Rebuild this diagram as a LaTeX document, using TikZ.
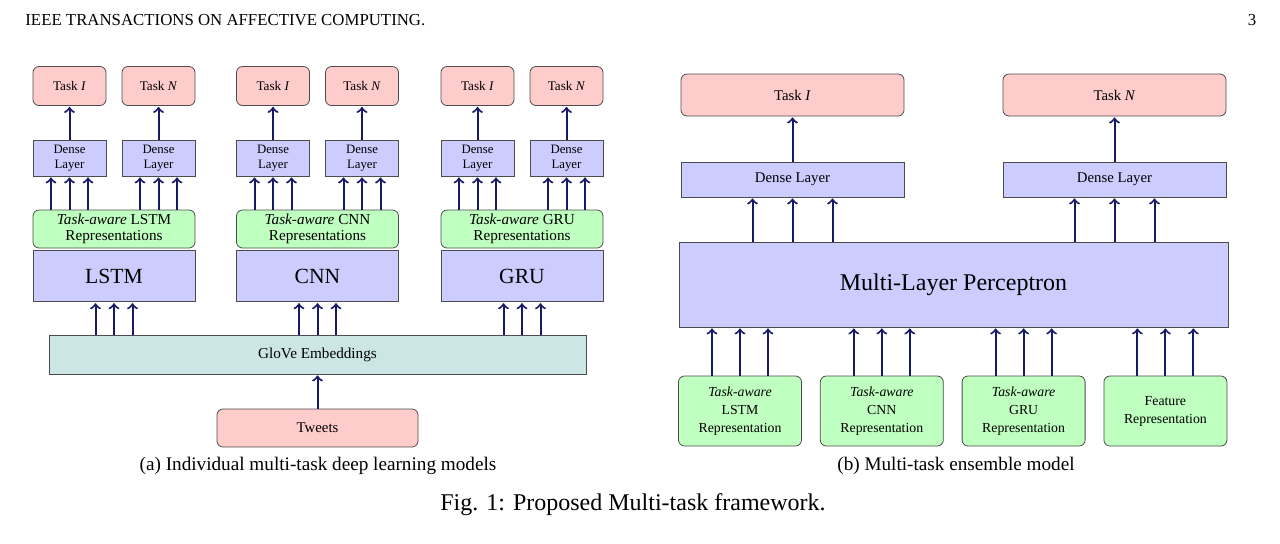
\documentclass[tikz,border=0pt]{standalone}
\usepackage{fontspec}
\setmainfont{Liberation Serif}
\usepackage{tikz}
\usepackage{xcolor}
\usetikzlibrary{arrows,positioning}
\definecolor{arrowblue}{RGB}{25,25,105}
\tikzstyle{task} = [rectangle, draw=black!70, fill=red!20, text centered, rounded corners=3pt, minimum height=19.5pt, minimum width=36.5pt, font=\fontsize{6.6}{8}\selectfont]
\tikzstyle{dense} = [rectangle, draw=black!70, fill=blue!20, align=center, inner sep=1pt, minimum height=18pt, minimum width=36.5pt, font=\fontsize{6.4}{7.6}\selectfont]
\tikzstyle{rep} = [rectangle, draw=black!70, fill=green!25, align=center, rounded corners=3pt, inner sep=1pt, minimum height=19pt, minimum width=81pt, font=\fontsize{7.6}{7.8}\selectfont]
\tikzstyle{model} = [rectangle, draw=black!70, fill=blue!20, minimum height=25.5pt, minimum width=81pt, font=\fontsize{10.8}{13}\selectfont]
\tikzstyle{embed} = [rectangle, draw=black!70, fill=teal!20, minimum height=19.5pt, minimum width=268.5pt, font=\fontsize{7.6}{9}\selectfont]
\tikzstyle{bigtask} = [task, minimum width=111.5pt, minimum height=21pt, font=\fontsize{7.4}{9}\selectfont]
\tikzstyle{bigdense} = [dense, minimum width=111.5pt, minimum height=17.5pt, font=\fontsize{7.4}{9}\selectfont]
\tikzstyle{mlp} = [model, minimum width=274.5pt, minimum height=42.5pt, font=\fontsize{12}{14}\selectfont]
\tikzstyle{inrep} = [rep, minimum width=61.5pt, minimum height=35pt, font=\fontsize{6.9}{9}\selectfont]
\tikzstyle{line} = [draw=arrowblue, line width=1pt, ->, shorten >=0.5pt]
\begin{document}
\begin{tikzpicture}[x=0.5pt, y=-0.5pt, node distance=36pt]
\useasboundingbox (0,0) rectangle (1280,543);
% page header
\node [anchor=west, inner sep=0pt, font=\fontsize{8.4}{10}\selectfont] (journal) at (25,20) {IEEE TRANSACTIONS ON AFFECTIVE COMPUTING.};
\node [inner sep=0pt, font=\fontsize{8.4}{10}\selectfont] (pageno) at (1252,20) {3};

% (a) individual models
\node [task] (lstmtI) at (69.5,86) {Task \textit{I}};
\node [task] (lstmtN) at (158.5,86) {Task \textit{N}};
\node [task] (cnntI) at (273,86) {Task \textit{I}};
\node [task] (cnntN) at (362,86) {Task \textit{N}};
\node [task] (grutI) at (477.5,86) {Task \textit{I}};
\node [task] (grutN) at (566.5,86) {Task \textit{N}};
\node [dense, below of=lstmtI] (lstmdI) {Dense\\Layer};
\node [dense, below of=lstmtN] (lstmdN) {Dense\\Layer};
\node [dense, below of=cnntI] (cnndI) {Dense\\Layer};
\node [dense, below of=cnntN] (cnndN) {Dense\\Layer};
\node [dense, below of=grutI] (grudI) {Dense\\Layer};
\node [dense, below of=grutN] (grudN) {Dense\\Layer};
\node [rep] (lstmrep) at (114,229) {\textit{Task-aware} LSTM\\Representations};
\node [rep] (cnnrep) at (317.5,229) {\textit{Task-aware} CNN\\Representations};
\node [rep] (grurep) at (522,229) {\textit{Task-aware} GRU\\Representations};
\node [model, below=1pt of lstmrep] (lstm) {LSTM};
\node [model, below=1pt of cnnrep] (cnn) {CNN};
\node [model, below=1pt of grurep] (gru) {GRU};
\node [embed] (glove) at (317.5,354.5) {GloVe Embeddings};
\node [task, below of=glove, node distance=36.75pt, minimum width=100.5pt, minimum height=19pt, font=\fontsize{7.4}{9}\selectfont] (tweets) {Tweets};
\node [font=\fontsize{9.6}{11}\selectfont] (capa) at (318,466) {(a) Individual multi-task deep learning models};

\path [line] (lstmdI) -- (lstmtI);
\path [line] (lstmdN) -- (lstmtN);
\path [line] (cnndI) -- (cnntI);
\path [line] (cnndN) -- (cnntN);
\path [line] (grudI) -- (grutI);
\path [line] (grudN) -- (grutN);
\foreach \s in {-9.25pt,0pt,9.25pt} {
  \path [line] ([xshift=\s]lstmdI.south |- lstmrep.north) -- ([xshift=\s]lstmdI.south);
  \path [line] ([xshift=\s]lstmdN.south |- lstmrep.north) -- ([xshift=\s]lstmdN.south);
  \path [line] ([xshift=\s]cnndI.south |- cnnrep.north) -- ([xshift=\s]cnndI.south);
  \path [line] ([xshift=\s]cnndN.south |- cnnrep.north) -- ([xshift=\s]cnndN.south);
  \path [line] ([xshift=\s]grudI.south |- grurep.north) -- ([xshift=\s]grudI.south);
  \path [line] ([xshift=\s]grudN.south |- grurep.north) -- ([xshift=\s]grudN.south);
  \path [line] ([xshift=\s]lstm.south |- glove.north) -- ([xshift=\s]lstm.south);
  \path [line] ([xshift=\s]cnn.south |- glove.north) -- ([xshift=\s]cnn.south);
  \path [line] ([xshift=\s]gru.south |- glove.north) -- ([xshift=\s]gru.south);
}
\path [line] (tweets) -- (glove);

% (b) ensemble model
\node [bigtask] (enstI) at (792.5,95) {Task \textit{I}};
\node [bigtask] (enstN) at (1114.5,95) {Task \textit{N}};
\node [bigdense, below of=enstI, node distance=42.25pt] (ensdI) {Dense Layer};
\node [bigdense, below of=enstN, node distance=42.25pt] (ensdN) {Dense Layer};
\node [mlp] (mlp) at (953.5,284.5) {Multi-Layer Perceptron};
\node [inrep] (lstmin) at (740,411) {\textit{Task-aware}\\LSTM\\Representation};
\node [inrep, right=9pt of lstmin] (cnnin) {\textit{Task-aware}\\CNN\\Representation};
\node [inrep, right=9pt of cnnin] (gruin) {\textit{Task-aware}\\GRU\\Representation};
\node [inrep, right=9pt of gruin] (featin) {Feature\\Representation};
\node [font=\fontsize{9.6}{11}\selectfont] (capb) at (956,466) {(b) Multi-task ensemble model};

\path [line] (ensdI) -- (enstI);
\path [line] (ensdN) -- (enstN);
\foreach \s in {-20pt,0pt,20pt} {
  \path [line] ([xshift=\s]ensdI.south |- mlp.north) -- ([xshift=\s]ensdI.south);
  \path [line] ([xshift=\s]ensdN.south |- mlp.north) -- ([xshift=\s]ensdN.south);
}
\foreach \s in {-14pt,0pt,14pt} {
  \path [line] ([xshift=\s]lstmin.north) -- ([xshift=\s]lstmin.north |- mlp.south);
  \path [line] ([xshift=\s]cnnin.north) -- ([xshift=\s]cnnin.north |- mlp.south);
  \path [line] ([xshift=\s]gruin.north) -- ([xshift=\s]gruin.north |- mlp.south);
  \path [line] ([xshift=\s]featin.north) -- ([xshift=\s]featin.north |- mlp.south);
}

\node [font=\fontsize{12}{14}\selectfont] (figcap) at (633,505) {Fig. 1: Proposed Multi-task framework.};
\end{tikzpicture}
\end{document}
